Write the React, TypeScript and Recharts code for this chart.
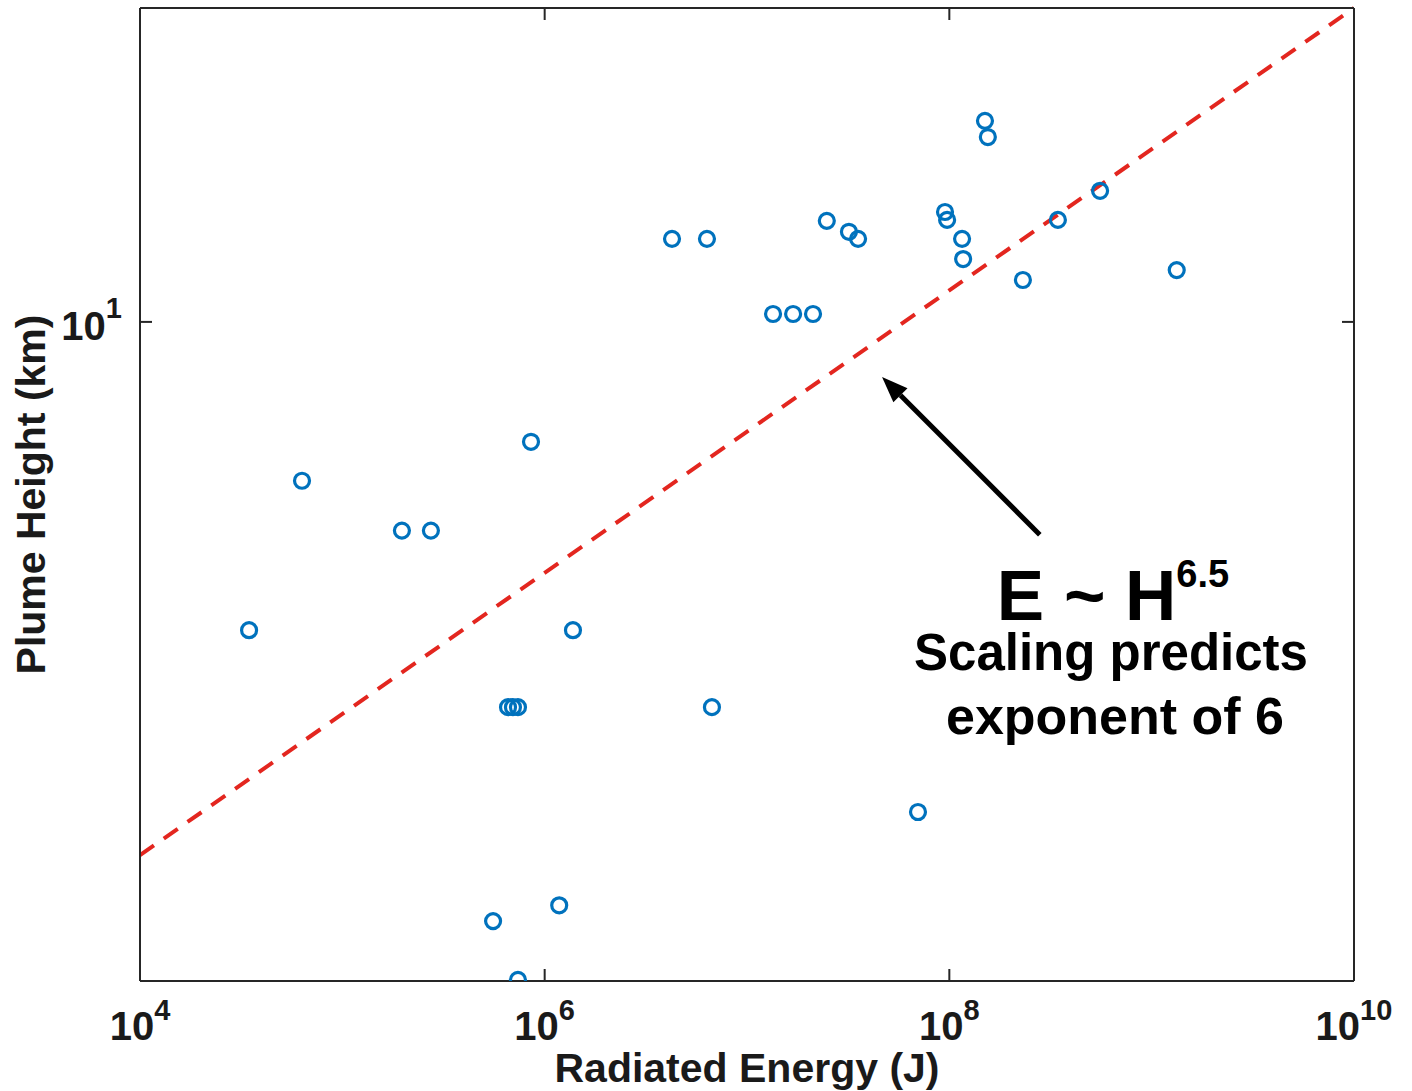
import React from "react";
import {
  ScatterChart,
  Scatter,
  XAxis,
  YAxis,
  ReferenceLine,
} from "recharts";

// radiated energy (J) and plume height (km) per event
const energies = [
  1.5e8, 1.55e8, 5.56e8, 3.44e8, 2.48e7, 9.52e7, 9.75e7, 3.19e7, 3.54e7, 4.26e6,
  6.34e6, 1.156e8, 1.17e8, 1.33e9, 2.31e8, 1.345e7, 1.69e7, 2.12e7, 8.56e5, 6.32e4,
  1.97e5, 2.74e5, 3.46e4, 1.38e6, 6.59e5, 6.97e5, 7.38e5, 6.71e6, 7.0e7, 1.18e6,
  5.56e5, 7.38e5,
];
const heights = [
  16.57, 15.91, 13.9, 12.92, 12.89, 13.18, 12.92, 12.54, 12.32, 12.32,
  12.32, 12.32, 11.71, 11.39, 11.11, 10.2, 10.2, 10.2, 7.4, 6.71,
  5.92, 5.92, 4.61, 4.61, 3.8, 3.8, 3.8, 3.8, 2.92, 2.31,
  2.22, 1.915,
];

// E ~ H^6.5 fit line endpoints
const fitE = [1e4, 1e10];
const fitH = [2.62, 22];

// arrow from the annotation to the fit line
const arrowE = [2.8e8, 4.65e7];
const arrowH = [5.86, 8.71];

const xTicks = [1e4, 1e6, 1e8, 1e10];
const yTicks = [10];

const FONT = "'Liberation Sans', Arial, Helvetica, sans-serif";
const AXIS = "#262626";
const BLUE = "#0072BD";
const RED = "#e3261f";

const points = energies.map((e, i) => ({ e, h: heights[i] }));

const exp10 = (v: number) => Math.round(Math.log10(v));

const BottomTick = (props: any) => {
  const { x, y, payload } = props;
  return (
    <g>
      <line x1={x} y1={y} x2={x} y2={y - 12} stroke={AXIS} strokeWidth={2} />
      <text
        x={x}
        y={y + 59}
        textAnchor="middle"
        fontFamily={FONT}
        fontWeight="bold"
        fontSize={40}
        fill="#1a1a1a"
      >
        10
        <tspan fontSize={29} dy={-20}>
          {exp10(payload.value)}
        </tspan>
      </text>
    </g>
  );
};

const TopTick = (props: any) => {
  const { x, y } = props;
  return <line x1={x} y1={y} x2={x} y2={y + 12} stroke={AXIS} strokeWidth={2} />;
};

const LeftTick = (props: any) => {
  const { x, y, payload } = props;
  return (
    <g>
      <line x1={x} y1={y} x2={x + 12} y2={y} stroke={AXIS} strokeWidth={2} />
      <text
        x={x - 18}
        y={y + 18}
        textAnchor="end"
        fontFamily={FONT}
        fontWeight="bold"
        fontSize={40}
        fill="#1a1a1a"
      >
        10
        <tspan fontSize={29} dy={-22}>
          {exp10(payload.value)}
        </tspan>
      </text>
    </g>
  );
};

const RightTick = (props: any) => {
  const { x, y } = props;
  return <line x1={x} y1={y} x2={x - 12} y2={y} stroke={AXIS} strokeWidth={2} />;
};

const Ring = (props: any) => {
  const { cx, cy } = props;
  if (cx == null || cy == null) return null;
  return <circle cx={cx} cy={cy} r={7.5} fill="none" stroke={BLUE} strokeWidth={3.2} />;
};

const Nothing = () => <g />;

const Arrow = (props: any) => {
  const { x1, y1, x2, y2 } = props;
  if ([x1, y1, x2, y2].some((v) => v == null)) return null;
  const ang = Math.atan2(y2 - y1, x2 - x1);
  const len = 26;
  const half = 10;
  const bx = x2 - len * Math.cos(ang);
  const by = y2 - len * Math.sin(ang);
  const px = -Math.sin(ang) * half;
  const py = Math.cos(ang) * half;
  return (
    <g>
      <line x1={x1} y1={y1} x2={bx} y2={by} stroke="#000" strokeWidth={5} />
      <polygon
        points={`${x2},${y2} ${bx + px},${by + py} ${bx - px},${by - py}`}
        fill="#000"
      />
    </g>
  );
};

const XTitle = (props: any) => {
  const vb = props.viewBox || { x: 140, y: 981, width: 1214, height: 110 };
  return (
    <text
      x={vb.x + vb.width / 2}
      y={vb.y + 101}
      textAnchor="middle"
      fontFamily={FONT}
      fontWeight="bold"
      fontSize={41}
      fill="#1a1a1a"
    >
      Radiated Energy (J)
    </text>
  );
};

const YTitle = (props: any) => {
  const vb = props.viewBox || { x: 0, y: 8, width: 140, height: 973 };
  const cx = vb.x + 45;
  const cy = vb.y + vb.height / 2;
  return (
    <text
      x={cx}
      y={cy}
      transform={`rotate(-90 ${cx} ${cy})`}
      textAnchor="middle"
      fontFamily={FONT}
      fontWeight="bold"
      fontSize={41}
      fill="#1a1a1a"
    >
      Plume Height (km)
    </text>
  );
};

export default function App() {
  return (
    <div
      style={{
        position: "absolute",
        left: 0,
        top: 0,
        width: 1412,
        height: 1091,
        background: "#fff",
      }}
    >
      <ScatterChart
        width={1412}
        height={1091}
        margin={{ top: 7, right: 57, bottom: 0, left: 0 }}
      >
        <XAxis
          dataKey="e"
          type="number"
          scale="log"
          domain={[1e4, 1e10]}
          allowDataOverflow
          ticks={xTicks}
          interval={0}
          height={110}
          tickSize={0}
          tickMargin={0}
          tickLine={false}
          axisLine={{ stroke: AXIS, strokeWidth: 2 }}
          tick={<BottomTick />}
          label={<XTitle />}
        />
        <XAxis
          xAxisId="top"
          dataKey="e"
          orientation="top"
          type="number"
          scale="log"
          domain={[1e4, 1e10]}
          allowDataOverflow
          ticks={xTicks}
          interval={0}
          height={1}
          tickSize={0}
          tickMargin={0}
          tickLine={false}
          axisLine={{ stroke: AXIS, strokeWidth: 2 }}
          tick={<TopTick />}
        />
        <YAxis
          dataKey="h"
          type="number"
          scale="log"
          domain={[1.91, 22]}
          allowDataOverflow
          ticks={yTicks}
          interval={0}
          width={140}
          tickSize={0}
          tickMargin={0}
          tickLine={false}
          axisLine={{ stroke: AXIS, strokeWidth: 2 }}
          tick={<LeftTick />}
          label={<YTitle />}
        />
        <YAxis
          yAxisId="right"
          dataKey="h"
          orientation="right"
          type="number"
          scale="log"
          domain={[1.91, 22]}
          allowDataOverflow
          ticks={yTicks}
          interval={0}
          width={1}
          tickSize={0}
          tickMargin={0}
          tickLine={false}
          axisLine={{ stroke: AXIS, strokeWidth: 2 }}
          tick={<RightTick />}
        />
        <ReferenceLine
          segment={[
            { x: fitE[0], y: fitH[0] },
            { x: fitE[1], y: fitH[1] },
          ]}
          stroke={RED}
          strokeWidth={4}
          strokeDasharray="17 12"
          ifOverflow="visible"
        />
        <Scatter
          data={points}
          xAxisId="top"
          yAxisId="right"
          shape={<Nothing />}
          isAnimationActive={false}
        />
        <Scatter data={points} shape={<Ring />} isAnimationActive={false} />
        <ReferenceLine
          segment={[
            { x: arrowE[0], y: arrowH[0] },
            { x: arrowE[1], y: arrowH[1] },
          ]}
          shape={<Arrow />}
          ifOverflow="visible"
        />
      </ScatterChart>
      <svg
        width={1412}
        height={1091}
        style={{ position: "absolute", left: 0, top: 0, pointerEvents: "none" }}
      >
        <g fontFamily={FONT} fontWeight="bold" fill="#000" textAnchor="middle">
          <text x={1113} y={620} fontSize={71}>
            E ~ H
            <tspan fontSize={38} dy={-33}>
              6.5
            </tspan>
          </text>
          <text x={1111} y={670} fontSize={51}>
            Scaling predicts
          </text>
          <text x={1115} y={734} fontSize={52}>
            exponent of 6
          </text>
        </g>
      </svg>
    </div>
  );
}
